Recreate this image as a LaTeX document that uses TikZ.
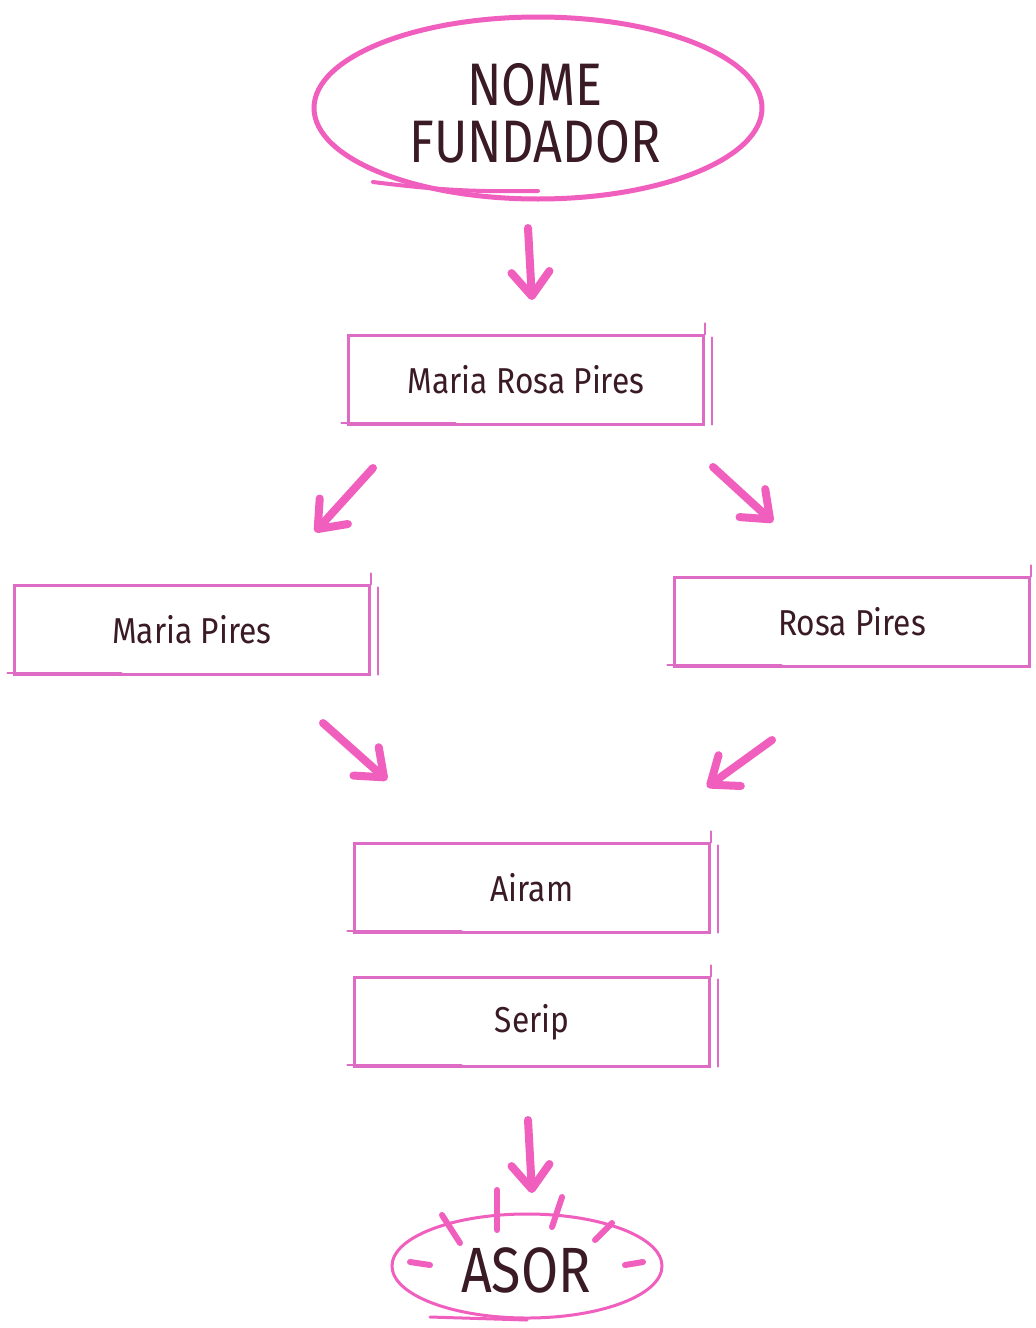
\documentclass[tikz,border=0pt]{standalone}
\usepackage{fontspec}
\setmainfont{Fira Sans}
\newfontfamily\handtitle[FakeStretch=0.84]{Fira Sans}
\newfontfamily\handbox[FakeStretch=0.88]{Fira Sans}
\usetikzlibrary{shapes.geometric,arrows.meta,calc}
\definecolor{arrowpink}{RGB}{240,95,190}
\definecolor{boxpink}{RGB}{222,108,196}
\definecolor{ink}{RGB}{58,26,36}
\newcommand\boxextras[1]{%
  \draw[boxline] ($(#1.north east)+(0,-11)$) -- (#1.north east);
  \draw[boxline] ($(#1.north east)+(7,3)$) -- ($(#1.south east)+(7,-1)$);
  \draw[boxline] ($(#1.south west)+(-6,-3)$) -- ($(#1.south west)+(108,-3)$);
}
\begin{document}
\begin{tikzpicture}[x=1pt,y=-1pt,
  arr/.style={draw=arrowpink, line width=8pt, line cap=round, line join=round,
    -{Straight Barb[round,length=24pt,width=38pt]}},
  boxframe/.style={draw=boxpink, line width=2.2pt, minimum width=355pt,
    minimum height=89pt, inner sep=0pt, text=ink,
    font=\handbox\fontsize{36}{40}\selectfont},
  boxline/.style={draw=boxpink, line width=2.2pt, line cap=round},
  oval/.style={ellipse, draw=arrowpink, line width=5pt, inner sep=0pt},
  title/.style={text=ink, font=\handtitle\fontsize{60}{57}\selectfont, align=center},
  tick/.style={draw=arrowpink, line width=6pt, line cap=round},
  swoosh/.style={draw=arrowpink, line cap=round}]
\fill[white] (0,0) rectangle (1036,1328);
\useasboundingbox (0,0) rectangle (1036,1328);

% top oval
\node[oval, minimum width=448pt, minimum height=182pt] (founder) at (538,108) {};
\node[title] (foundertext) at (535,113) {NOME\\FUNDADOR};
\draw[swoosh, line width=4pt] ($(founder.center)+(-165,74)$) to[bend right=4] ($(founder.center)+(0,83)$);

% boxes
\node[boxframe] (mrp) at (526,380) {Maria Rosa Pires};
\node[boxframe] (mp) at (192,630) {Maria Pires};
\node[boxframe] (rp) at (852,622) {Rosa Pires};
\node[boxframe] (airam) at (532,888) {Airam};
\node[boxframe] (serip) at (532,1022) {Serip};
\boxextras{mrp}
\boxextras{mp}
\boxextras{rp}
\boxextras{airam}
\boxextras{serip}

% bottom oval
\node[oval, line width=3pt, minimum width=270pt, minimum height=104pt] (asor) at (527,1266) {};
\node[text=ink, font=\handtitle\fontsize{64}{64}\selectfont] (asortext) at (526,1270) {ASOR};
\draw[swoosh, line width=3pt] ($(asor.center)+(-97,51)$) -- ($(asor.center)+(0,54)$);
\draw[tick] (442,1215) -- (460,1243);
\draw[tick] (497,1190) -- (497,1230);
\draw[tick] (562,1197) -- (552,1227);
\draw[tick] (612,1223) -- (595,1240);
\draw[tick] (410,1262) -- (430,1265);
\draw[tick] (625,1265) -- (643,1262);

% arrows
\coordinate (a1s) at (528,228); \coordinate (a1e) at (532,300);
\coordinate (a2s) at (373,468); \coordinate (a2e) at (315,532);
\coordinate (a3s) at (713,467); \coordinate (a3e) at (773,522);
\coordinate (a4s) at (323,723); \coordinate (a4e) at (387,780);
\coordinate (a5s) at (772,740); \coordinate (a5e) at (707,787);
\coordinate (a6s) at (528,1120); \coordinate (a6e) at (532,1193);
\draw[arr] (a1s) -- (a1e);
\draw[arr] (a2s) -- (a2e);
\draw[arr] (a3s) -- (a3e);
\draw[arr] (a4s) -- (a4e);
\draw[arr] (a5s) -- (a5e);
\draw[arr] (a6s) -- (a6e);
\end{tikzpicture}
\end{document}
